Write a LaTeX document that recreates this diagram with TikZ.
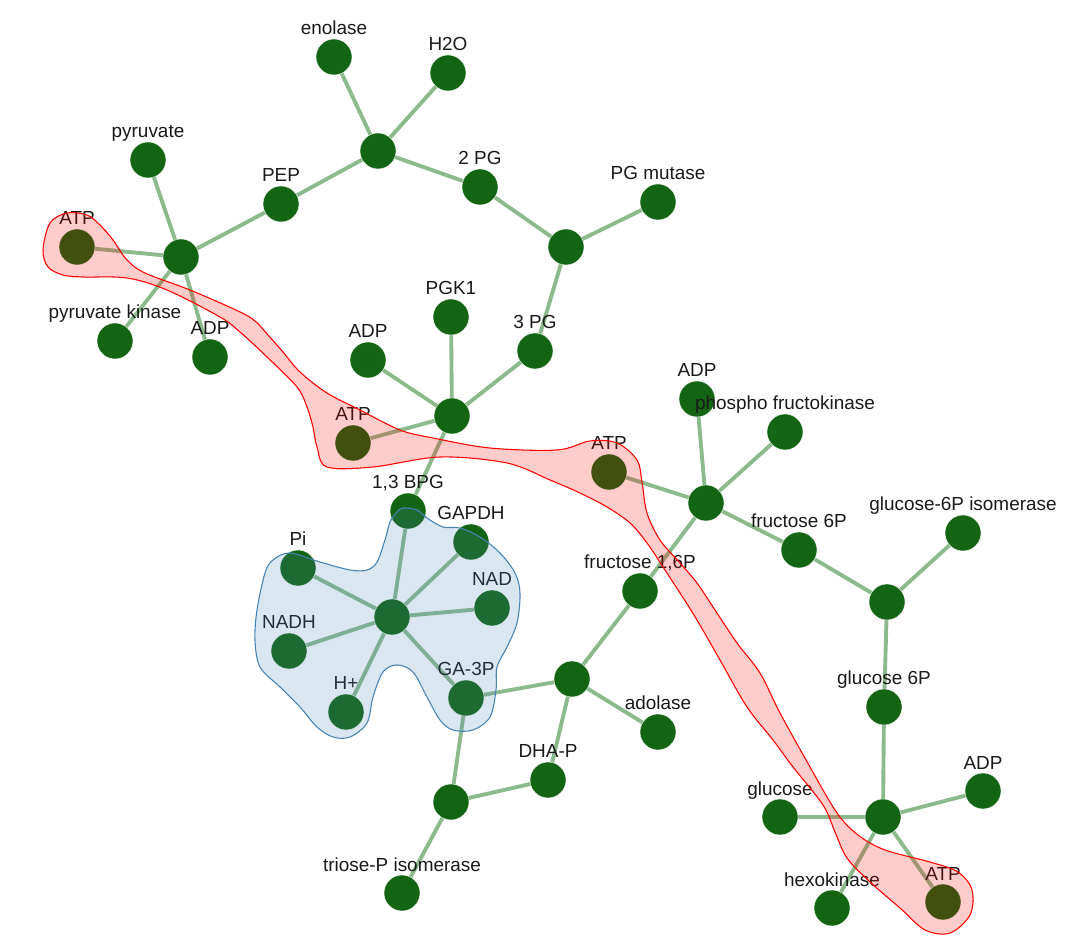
\documentclass[tikz,border=0pt]{standalone}
\usepackage{fontspec}
\setmainfont{Liberation Sans}
\usetikzlibrary{calc,backgrounds}
\definecolor{vcol}{RGB}{19,101,19}
\definecolor{ecol}{RGB}{140,186,140}
\definecolor{hullblue}{RGB}{70,130,180}
\tikzset{
  vert/.style={circle,fill=vcol,draw=white,line width=0.3pt,minimum size=27pt,inner sep=0pt},
  edge/.style={draw=ecol,line width=2.9pt},
  lbl/.style={anchor=base,inner sep=0pt,font=\fontsize{14.2}{17}\selectfont,text=black!90},
  redhull/.style={fill=red,fill opacity=0.2,draw=red,line width=0.8pt},
  bluehull/.style={fill=hullblue,fill opacity=0.2,draw=hullblue,line width=0.8pt}
}
\begin{document}
\begin{tikzpicture}[x=0.75pt,y=-0.75pt]
\useasboundingbox (0,0) rectangle (1079,944);
% nodes
\node[vert] (enolase) at (334,57) {};
\node[vert] (h2o) at (448,73) {};
\node[vert] (h1) at (378,151) {};
\node[vert] (pg2) at (480,187) {};
\node[vert] (pgmut) at (658,202) {};
\node[vert] (h2) at (566,247) {};
\node[vert] (pg3) at (535,351) {};
\node[vert] (pep) at (281,204) {};
\node[vert] (pyr) at (148,160) {};
\node[vert] (h3) at (181,257) {};
\node[vert] (atpa) at (77,247) {};
\node[vert] (pk) at (115,341) {};
\node[vert] (adpa) at (210,357) {};
\node[vert] (pgk) at (451,317) {};
\node[vert] (adpb) at (368,360) {};
\node[vert] (h4) at (452,416) {};
\node[vert] (atpb) at (353,443) {};
\node[vert] (bpg) at (408,511) {};
\node[vert] (gapdh) at (471,542) {};
\node[vert] (pi) at (298,568) {};
\node[vert] (nad) at (492,608) {};
\node[vert] (h5) at (392,617) {};
\node[vert] (nadh) at (289,651) {};
\node[vert] (hplus) at (346,712) {};
\node[vert] (ga3p) at (466,698) {};
\node[vert] (h6) at (572,679) {};
\node[vert] (f16p) at (640,591) {};
\node[vert] (adol) at (658,732) {};
\node[vert] (dhap) at (548,780) {};
\node[vert] (h7) at (451,802) {};
\node[vert] (tpi) at (402,893) {};
\node[vert] (adpc) at (697,399) {};
\node[vert] (pfk) at (785,432) {};
\node[vert] (atpc) at (609,472) {};
\node[vert] (h8) at (706,503) {};
\node[vert] (f6p) at (799,550) {};
\node[vert] (g6pi) at (963,533) {};
\node[vert] (h9) at (887,602) {};
\node[vert] (g6p) at (884,707) {};
\node[vert] (h10) at (883,817) {};
\node[vert] (gluc) at (780,817) {};
\node[vert] (adpd) at (983,791) {};
\node[vert] (hexo) at (832,908) {};
\node[vert] (atpd) at (943,902) {};
% edges
\begin{scope}[on background layer]
\foreach \a/\b in {h1/enolase,h1/h2o,h1/pg2,h1/pep,h2/pg2,h2/pgmut,h2/pg3,
  h3/pep,h3/pyr,h3/atpa,h3/pk,h3/adpa,h4/pg3,h4/pgk,h4/adpb,h4/atpb,h4/bpg,
  h5/bpg,h5/gapdh,h5/pi,h5/nad,h5/nadh,h5/hplus,h5/ga3p,
  h6/ga3p,h6/f16p,h6/adol,h6/dhap,h7/dhap,h7/ga3p,h7/tpi,
  h8/atpc,h8/adpc,h8/pfk,h8/f6p,h8/f16p,h9/f6p,h9/g6pi,h9/g6p,
  h10/g6p,h10/gluc,h10/adpd,h10/hexo,h10/atpd}
  \draw[edge] (\a.center) -- (\b.center);
\end{scope}
% labels
\foreach \n/\t in {enolase/enolase,h2o/H2O,pg2/2 PG,pgmut/PG mutase,pg3/3 PG,pep/PEP,
  pyr/pyruvate,atpa/ATP,pk/pyruvate kinase,adpa/ADP,pgk/PGK1,adpb/ADP,atpb/ATP,
  bpg/{1,3 BPG},gapdh/GAPDH,pi/Pi,nad/NAD,nadh/NADH,hplus/H+,ga3p/GA-3P,
  f16p/{fructose 1,6P},adol/adolase,dhap/DHA-P,tpi/triose-P isomerase,adpc/ADP,
  pfk/phospho fructokinase,atpc/ATP,f6p/fructose 6P,g6pi/glucose-6P isomerase,
  g6p/glucose 6P,gluc/glucose,adpd/ADP,hexo/hexokinase,atpd/ATP}
  \node[lbl] at ($(\n)+(0,-22)$) {\t};
% hulls
\draw[redhull] plot[smooth cycle,tension=0.55] coordinates {
 (43,250) (50,223) (67,213) (87,215) (100,225) (113,240) (127,260) (145,273)
 (190,290) (238,311) (255,321) (268,335) (283,352) (300,372) (327,393) (360,410) (400,430)
 (433,438) (490,448) (557,450) (590,441) (617,443) (637,460) (642,482) (647,513)
 (660,540) (680,563) (697,583) (713,607) (737,643) (760,673) (780,713) (810,767) (837,813)
 (858,835) (885,850) (930,862) (958,872) (972,890) (970,915) (950,933) (925,930)
 (900,908) (870,882) (847,858) (835,832) (823,805) (793,767) (773,740) (747,707)
 (720,660) (697,620) (680,593) (663,567) (647,543) (630,523) (607,507) (580,493) (550,480)
 (507,463) (440,457) (373,467) (327,467) (317,447) (313,427) (307,407) (297,387)
 (267,357) (240,332) (220,317) (167,290) (127,278) (83,277) (63,275) (48,267)};
\draw[bluehull] plot[smooth cycle,tension=0.55] coordinates {
 (403,508) (417,510) (427,518) (443,527) (460,528) (480,537) (500,553) (515,573)
 (520,593) (517,623) (507,647) (497,667) (496,690) (490,717) (473,730) (453,730)
 (440,720) (427,697) (413,672) (397,665) (383,672) (373,697) (367,723) (350,737)
 (333,737) (317,727) (300,707) (280,687) (260,667) (255,640) (257,610) (265,573)
 (273,560) (290,553) (320,562) (350,570) (367,570) (377,562) (385,540) (390,522)
 (397,512)};
\end{tikzpicture}
\end{document}
